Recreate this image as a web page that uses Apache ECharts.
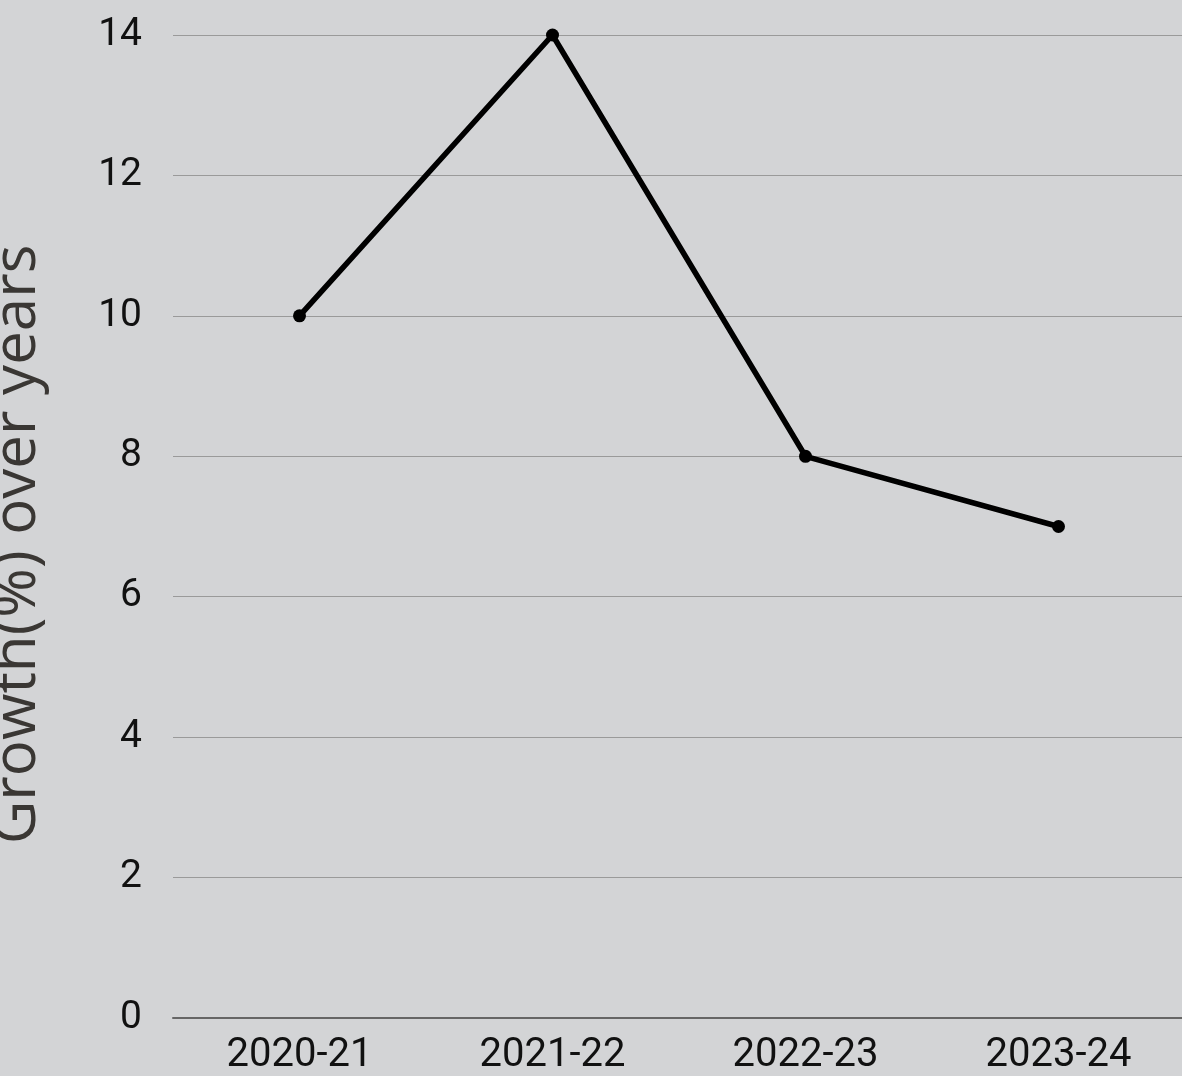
<!DOCTYPE html>
<html>
<head>
<meta charset="utf-8">
<script src="https://cdn.jsdelivr.net/npm/echarts@6/dist/echarts.min.js"></script>
<style>
  html, body { margin: 0; padding: 0; background: #d3d4d6; }
  #chart { width: 1182px; height: 1076px; }
</style>
</head>
<body>
<div id="chart"></div>
<script>
// Yearly growth figures
const years = ['2020-21', '2021-22', '2022-23', '2023-24'];
const growth = [10, 14, 8, 7];
const yTicks = { min: 0, max: 14, interval: 2 };

const chart = echarts.init(document.getElementById('chart'));
chart.setOption({
  backgroundColor: '#d3d4d6',
  animation: false,
  grid: {
    left: 173, right: -3, top: 35, bottom: 58,
    containLabel: false,
    outerBoundsMode: 'none'
  },
  xAxis: {
    type: 'category',
    data: years,
    boundaryGap: true,
    axisLine: { show: true, lineStyle: { color: '#666666', width: 2 } },
    axisTick: { show: false },
    axisLabel: {
      color: '#111111',
      fontFamily: 'Roboto',
      fontSize: 40,
      margin: 18
    }
  },
  yAxis: {
    type: 'value',
    min: yTicks.min,
    max: yTicks.max,
    interval: yTicks.interval,
    name: 'Growth(%) over years',
    nameLocation: 'middle',
    nameGap: 125,
    nameTextStyle: {
      color: '#3a3734',
      fontFamily: 'Open Sans',
      fontSize: 60,
      padding: [0, 36, 0, 0]
    },
    axisLine: { show: false },
    axisTick: { show: false },
    splitLine: { show: true, lineStyle: { color: '#9a9a9a', width: 1 } },
    axisLabel: {
      color: '#111111',
      fontFamily: 'Roboto',
      fontSize: 39,
      margin: 31
    }
  },
  series: [{
    type: 'line',
    data: growth,
    symbol: 'circle',
    symbolSize: 13,
    lineStyle: { color: '#000000', width: 5.5 },
    itemStyle: { color: '#000000' }
  }]
});
</script>
</body>
</html>
